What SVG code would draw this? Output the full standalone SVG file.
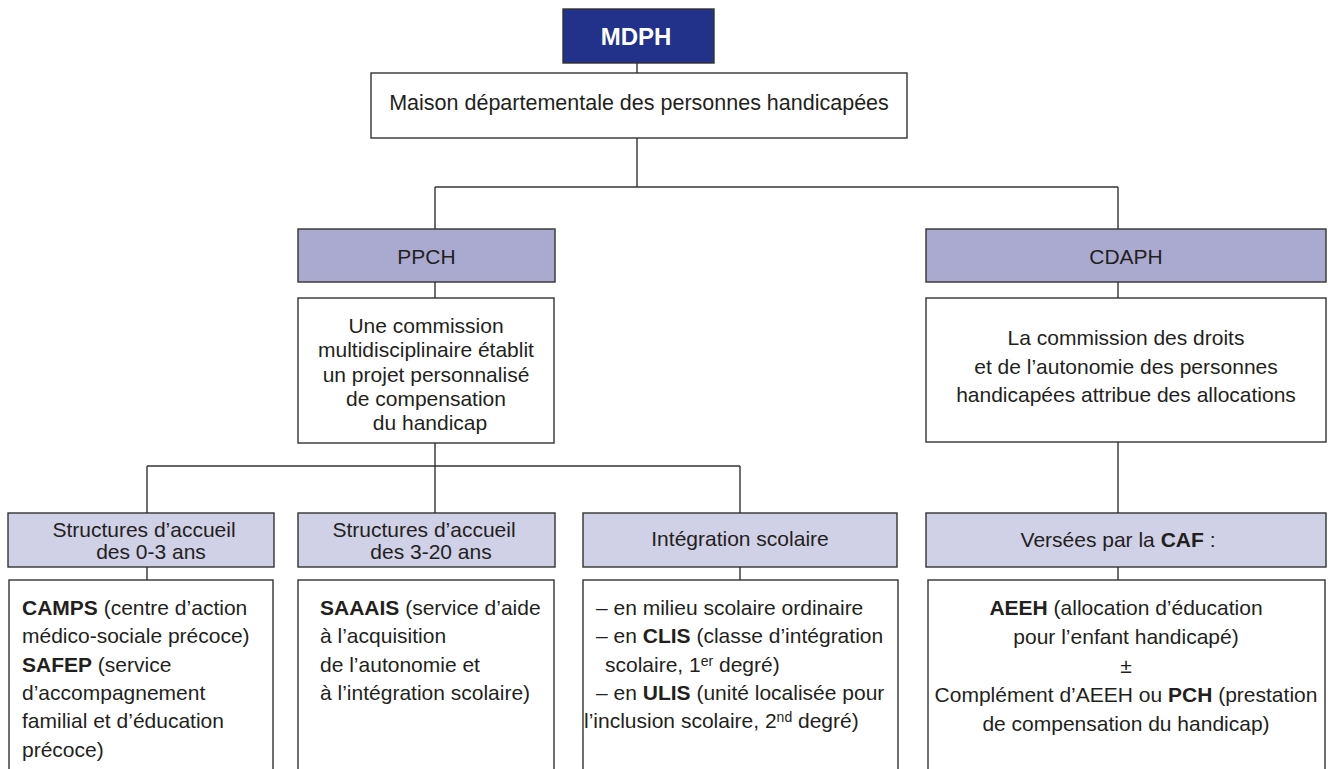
<svg xmlns="http://www.w3.org/2000/svg" width="1331" height="769" viewBox="0 0 1331 769">
  <style>
    rect { stroke: #333; stroke-width: 1.4; }
    .box { fill: #fff; }
    .head { fill: #aaaad0; }
    .sub { fill: #d0d0e6; }
    .top { fill: #22318a; }
    text { font-family: "Liberation Sans", Arial, sans-serif; font-size: 21px; fill: #231f20; }
    .c { text-anchor: middle; }
    .b { font-weight: bold; }
    .sup { font-size: 14px; }
    #links line { stroke: #333; stroke-width: 1.4; }
  </style>

  <rect width="1331" height="769" fill="#fff" style="stroke:none"/>

  <!-- connectors -->
  <g id="links">
    <line x1="637" y1="63" x2="637" y2="73"/>
    <line x1="637" y1="138" x2="637" y2="187"/>
    <line x1="435" y1="187" x2="1118" y2="187"/>
    <line x1="435" y1="187" x2="435" y2="229"/>
    <line x1="1118" y1="187" x2="1118" y2="229"/>
    <line x1="435" y1="282" x2="435" y2="298"/>
    <line x1="1118" y1="282" x2="1118" y2="298"/>
    <line x1="435" y1="443" x2="435" y2="466"/>
    <line x1="147" y1="466" x2="740" y2="466"/>
    <line x1="147" y1="466" x2="147" y2="513"/>
    <line x1="435" y1="466" x2="435" y2="513"/>
    <line x1="740" y1="466" x2="740" y2="513"/>
    <line x1="1118" y1="442" x2="1118" y2="513"/>
    <line x1="147" y1="567" x2="147" y2="580"/>
    <line x1="740" y1="567" x2="740" y2="580"/>
    <line x1="1118" y1="567" x2="1118" y2="580"/>
  </g>

  <g id="mdph">
    <rect class="top" x="563" y="9" width="151" height="54"/>
    <text class="c b" x="636" y="45" style="fill:#fff;font-size:24px">MDPH</text>
  </g>

  <g id="maison">
    <rect class="box" x="371" y="73" width="536" height="65"/>
    <text class="c" x="639" y="110" style="font-size:21.5px">Maison départementale des personnes handicapées</text>
  </g>

  <g id="ppch">
    <rect class="head" x="298" y="229" width="257" height="53"/>
    <text class="c" x="426.5" y="264">PPCH</text>
  </g>

  <g id="ppch-desc">
    <rect class="box" x="298" y="298" width="256" height="145"/>
    <text class="c" x="426" y="333">Une commission</text>
    <text class="c" x="426" y="357">multidisciplinaire établit</text>
    <text class="c" x="426" y="381.5">un projet personnalisé</text>
    <text class="c" x="426" y="406">de compensation</text>
    <text class="c" x="430" y="430">du handicap</text>
  </g>

  <g id="cdaph">
    <rect class="head" x="926" y="229" width="400" height="53"/>
    <text class="c" x="1126" y="264">CDAPH</text>
  </g>

  <g id="cdaph-desc">
    <rect class="box" x="926" y="298" width="400" height="144"/>
    <text class="c" x="1126" y="345">La commission des droits</text>
    <text class="c" x="1126" y="373.5">et de l’autonomie des personnes</text>
    <text class="c" x="1126" y="402">handicapées attribue des allocations</text>
  </g>

  <g id="accueil-0-3">
    <rect class="sub" x="8" y="513" width="266" height="54"/>
    <text class="c" x="144" y="537">Structures d’accueil</text>
    <text class="c" x="151" y="559">des 0-3 ans</text>
  </g>

  <g id="accueil-0-3-list">
    <rect class="box" x="9" y="580" width="264" height="200"/>
    <text x="22" y="615"><tspan class="b">CAMPS</tspan> (centre d’action</text>
    <text x="22" y="643.3">médico-sociale précoce)</text>
    <text x="22" y="671.6"><tspan class="b">SAFEP</tspan> (service</text>
    <text x="22" y="700">d’accompagnement</text>
    <text x="22" y="728.3">familial et d’éducation</text>
    <text x="22" y="756.6">précoce)</text>
  </g>

  <g id="accueil-3-20">
    <rect class="sub" x="298" y="513" width="257" height="54"/>
    <text class="c" x="424" y="537">Structures d’accueil</text>
    <text class="c" x="431" y="559">des 3-20 ans</text>
  </g>

  <g id="accueil-3-20-list">
    <rect class="box" x="298" y="580" width="256" height="200"/>
    <text x="320" y="615"><tspan class="b">SAAAIS</tspan> (service d’aide</text>
    <text x="320" y="643.3">à l’acquisition</text>
    <text x="320" y="671.6">de l’autonomie et</text>
    <text x="320" y="700">à l’intégration scolaire)</text>
  </g>

  <g id="integration">
    <rect class="sub" x="583" y="513" width="314" height="54"/>
    <text class="c" x="740" y="546">Intégration scolaire</text>
  </g>

  <g id="integration-list">
    <rect class="box" x="583" y="580" width="315" height="200"/>
    <text x="596" y="615">– en milieu scolaire ordinaire</text>
    <text x="596" y="643.3">– en <tspan class="b">CLIS</tspan> (classe d’intégration</text>
    <text x="605" y="671.6">scolaire, 1<tspan class="sup" dy="-6">er</tspan><tspan dy="6"> degré)</tspan></text>
    <text x="596" y="700">– en <tspan class="b">ULIS</tspan> (unité localisée pour</text>
    <text x="584" y="728.3">l’inclusion scolaire, 2<tspan class="sup" dy="-6">nd</tspan><tspan dy="6"> degré)</tspan></text>
  </g>

  <g id="caf">
    <rect class="sub" x="926" y="513" width="400" height="54"/>
    <text class="c" x="1118" y="547">Versées par la <tspan class="b">CAF</tspan> :</text>
  </g>

  <g id="caf-list">
    <rect class="box" x="928" y="580" width="397" height="200"/>
    <text class="c" x="1126" y="615"><tspan class="b">AEEH</tspan> (allocation d’éducation</text>
    <text class="c" x="1126" y="644">pour l’enfant handicapé)</text>
    <text class="c" x="1126" y="673">±</text>
    <text class="c" x="1126" y="702">Complément d’AEEH ou <tspan class="b">PCH</tspan> (prestation</text>
    <text class="c" x="1126" y="731">de compensation du handicap)</text>
  </g>
</svg>
